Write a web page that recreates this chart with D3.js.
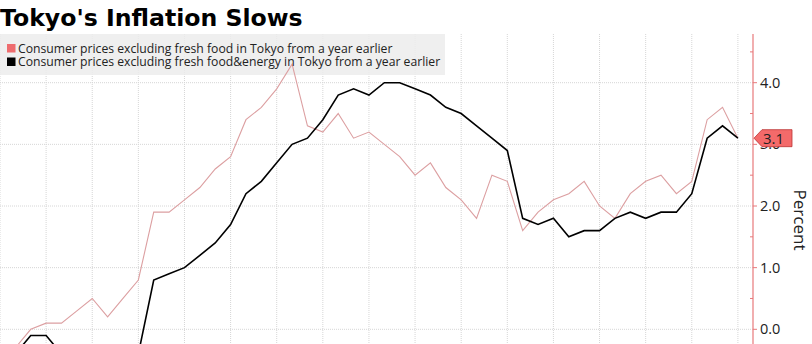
<!DOCTYPE html>
<html><head><meta charset="utf-8">
<script src="https://cdn.jsdelivr.net/npm/d3@7"></script>
<style>body{margin:0;background:#fff}svg{display:block}</style>
</head><body>
<svg id="c" width="812" height="344"></svg>
<script>
const title = "Tokyo's Inflation Slows";
const seriesNames = [
  "Consumer prices excluding fresh food in Tokyo from a year earlier",
  "Consumer prices excluding fresh food&energy in Tokyo from a year earlier"
];
const months = d3.range(49);
const coreCPI = [-0.5,-0.3,0.0,0.1,0.1,0.3,0.5,0.2,0.5,0.8,1.9,1.9,2.1,2.3,2.6,2.8,3.4,3.6,3.9,4.3,3.3,3.2,3.5,3.1,3.2,3.0,2.8,2.5,2.7,2.3,2.1,1.8,2.5,2.4,1.6,1.9,2.1,2.2,2.4,2.0,1.8,2.2,2.4,2.5,2.2,2.4,3.4,3.6,3.1];
const coreCoreCPI = [-0.5,-0.4,-0.1,-0.1,-0.4,-0.6,-0.7,-0.6,-0.5,-0.4,0.8,0.9,1.0,1.2,1.4,1.7,2.2,2.4,2.7,3.0,3.1,3.4,3.8,3.9,3.8,4.0,4.0,3.9,3.8,3.6,3.5,3.3,3.1,2.9,1.8,1.7,1.8,1.5,1.6,1.6,1.8,1.9,1.8,1.9,1.9,2.2,3.1,3.3,3.1];
const yTicks = [0,1,2,3,4];
const lastLabel = "3.1";

const svg = d3.select("#c");
const red = "#ee6c6e", axisRed = "#e8797b";
const x = d3.scaleLinear().domain([0, 48]).range([0, 737.9]);
const y = d3.scaleLinear().domain([0, 4]).range([329.3, 82.7]);
const axisX = 753, plotTop = 34, plotBottom = 344;

// grid
const g = svg.append("g");
g.selectAll("line.v").data(months.filter(m => m % 3 === 0)).join("line")
  .attr("x1", d => x(d)).attr("x2", d => x(d)).attr("y1", plotTop).attr("y2", plotBottom)
  .attr("stroke", "#d6d6d6").attr("stroke-width", 1).attr("stroke-dasharray", "1,1");
g.selectAll("line.h").data(yTicks).join("line")
  .attr("x1", 0).attr("x2", axisX).attr("y1", d => y(d)).attr("y2", d => y(d))
  .attr("stroke", "#d6d6d6").attr("stroke-width", 1).attr("stroke-dasharray", "1,1");

// legend background
svg.append("rect").attr("x", 0).attr("y", 34).attr("width", 445).attr("height", 41)
  .attr("fill", "#ececec").attr("opacity", 0.85);

// lines
const line = d3.line().x((d, i) => x(i)).y(d => y(d));
svg.append("path").datum(coreCPI).attr("d", line).attr("fill", "none")
  .attr("stroke", "#dc9fa1").attr("stroke-width", 1.1);
svg.append("path").datum(coreCoreCPI).attr("d", line).attr("fill", "none")
  .attr("stroke", "#000").attr("stroke-width", 1.6);

// legend
const leg = svg.append("g").attr("font-family", "'Open Sans', sans-serif").attr("font-size", 12.2).attr("fill", "#222");
[red, "#000"].forEach((c, i) => {
  leg.append("rect").attr("x", 7).attr("y", 44 + i * 13.5).attr("width", 8.5).attr("height", 8.5).attr("fill", c);
  leg.append("text").attr("x", 18).attr("y", 52.5 + i * 13.5).text(seriesNames[i]);
});

// title
svg.append("text").attr("x", 0).attr("y", 26).attr("font-family", "'DejaVu Sans', sans-serif")
  .attr("font-weight", "bold").attr("font-size", 23.6).attr("fill", "#000").text(title);

// right axis
const ax = svg.append("g").attr("transform", `translate(${axisX},0)`);
ax.append("line").attr("x1", 0).attr("x2", 0).attr("y1", plotTop).attr("y2", plotBottom).attr("stroke", axisRed).attr("stroke-width", 1.2);
const minor = d3.range(-0.5, 4.6, 0.5).filter(v => Math.abs(v - Math.round(v)) > 0.01);
ax.selectAll("line.mi").data(minor).join("line").attr("x1", -3).attr("x2", 0)
  .attr("y1", d => y(d)).attr("y2", d => y(d)).attr("stroke", axisRed);
ax.selectAll("line.ma").data(yTicks).join("line").attr("x1", 0).attr("x2", 4)
  .attr("y1", d => y(d)).attr("y2", d => y(d)).attr("stroke", axisRed);
ax.selectAll("text.t").data(yTicks).join("text").attr("x", 7).attr("y", d => y(d) + 5)
  .attr("font-family", "'Open Sans', sans-serif").attr("font-size", 14.5).attr("fill", "#222")
  .text(d => d3.format(".1f")(d));
svg.append("text").attr("transform", "translate(794,220) rotate(90)").attr("text-anchor", "middle")
  .attr("font-family", "'Open Sans', sans-serif").attr("font-size", 17).attr("fill", "#222").text("Percent");

// last value label
const ly = y(coreCPI[coreCPI.length - 1]);
svg.append("path").attr("d", `M${axisX + 1},${ly} L${axisX + 9},${ly - 8.5} L${axisX + 39},${ly - 8.5} L${axisX + 39},${ly + 8.5} L${axisX + 9},${ly + 8.5} Z`)
  .attr("fill", "#f46a6a").attr("stroke", "#b33").attr("stroke-width", 0.8);
svg.append("text").attr("x", axisX + 10).attr("y", ly + 5.5).attr("font-family", "'Open Sans', sans-serif")
  .attr("font-size", 15).attr("fill", "#222").text(lastLabel);
</script>
</body></html>
